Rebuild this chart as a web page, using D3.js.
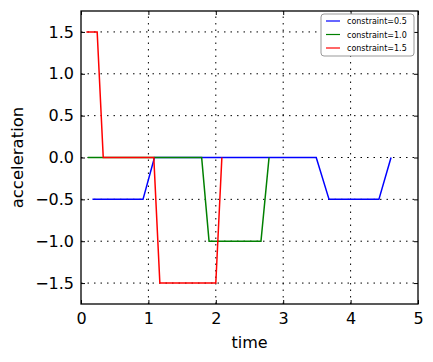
<!DOCTYPE html>
<html lang="en">
<head>
<meta charset="utf-8">
<title>acceleration vs time</title>
<script src="https://cdn.jsdelivr.net/npm/d3@7"></script>
<style>
    body { margin: 0; background: white; font-family: 'DejaVu Sans', sans-serif; }
    .grid line { stroke: #000; stroke-dasharray: 1.5,5; stroke-width: 1; }
</style>
</head>
<body>
<div class="chart"></div>
<script>
// series: [time, acceleration] pairs
const seriesNames = ["constraint=0.5", "constraint=1.0", "constraint=1.5"];
const seriesColors = ["#0000ff", "#008000", "#ff0000"];
const blueTime = [0.17, 0.92, 1.09, 3.49, 3.68, 4.42, 4.6];
const blueAcc  = [-0.5, -0.5, 0, 0, -0.5, -0.5, 0];
const greenTime = [0.1, 1.79, 1.9, 2.67, 2.79];
const greenAcc  = [0, 0, -1, -1, 0];
const redTime = [0.08, 0.24, 0.33, 1.08, 1.17, 2.0, 2.09];
const redAcc  = [1.5, 1.5, 0, 0, -1.5, -1.5, 0];
const xTicks = [0, 1, 2, 3, 4, 5];
const yTicks = [-1.5, -1.0, -0.5, 0.0, 0.5, 1.0, 1.5];

const width = 433, height = 362;
const margin = {left: 81, right: 15, top: 11, bottom: 58};

const svg = d3.select(".chart").append("svg")
    .attr("width", width).attr("height", height);

const x = d3.scaleLinear().domain([0, 5]).range([margin.left, width - margin.right]);
const y = d3.scaleLinear().domain([-1.75, 1.75]).range([height - margin.bottom, margin.top]);

// grid
svg.append("g").attr("class", "grid")
    .selectAll("line").data(xTicks.slice(1, -1)).enter().append("line")
    .attr("x1", d => x(d)).attr("x2", d => x(d))
    .attr("y1", y(-1.75)).attr("y2", y(1.75));
svg.append("g").attr("class", "grid")
    .selectAll("line").data(yTicks).enter().append("line")
    .attr("y1", d => y(d)).attr("y2", d => y(d))
    .attr("x1", x(0)).attr("x2", x(5));

// axes, ticks pointing inward on all sides
const fmt = d3.format(".1f");
svg.append("g").attr("transform", `translate(0,${y(-1.75)})`)
    .call(d3.axisBottom(x).tickValues(xTicks).tickSizeInner(-4).tickSizeOuter(0).tickPadding(9).tickFormat(d3.format("d")));
svg.append("g").attr("transform", `translate(0,${y(1.75)})`)
    .call(d3.axisTop(x).tickValues(xTicks).tickSizeInner(-4).tickSizeOuter(0).tickFormat(""));
svg.append("g").attr("transform", `translate(${x(0)},0)`)
    .call(d3.axisLeft(y).tickValues(yTicks).tickSizeInner(-4).tickSizeOuter(0).tickPadding(7).tickFormat(d => d < 0 ? "\u2212" + fmt(-d) : fmt(d)));
svg.append("g").attr("transform", `translate(${x(5)},0)`)
    .call(d3.axisRight(y).tickValues(yTicks).tickSizeInner(-4).tickSizeOuter(0).tickFormat(""));
svg.selectAll(".tick text").attr("font-size", 16).attr("font-family", "DejaVu Sans").attr("fill", "#000");
svg.selectAll(".domain").remove();
svg.selectAll(".tick line").attr("stroke", "#000");

// lines, drawn above grid and ticks
const data = [
    blueTime.map((t, i) => [t, blueAcc[i]]),
    greenTime.map((t, i) => [t, greenAcc[i]]),
    redTime.map((t, i) => [t, redAcc[i]])
];
const line = d3.line().x(d => x(d[0])).y(d => y(d[1]));
data.forEach((s, i) => {
    svg.append("path").datum(s)
        .attr("d", line)
        .attr("fill", "none")
        .attr("stroke", seriesColors[i])
        .attr("stroke-width", 1.5);
});

svg.append("rect")
    .attr("x", x(0)).attr("y", y(1.75))
    .attr("width", x(5) - x(0)).attr("height", y(-1.75) - y(1.75))
    .attr("fill", "none").attr("stroke", "#000").attr("stroke-width", 1.3);

// axis labels
svg.append("text").attr("x", (x(0) + x(5)) / 2).attr("y", 348)
    .attr("text-anchor", "middle").attr("font-size", 16).text("time");
svg.append("text")
    .attr("transform", `translate(23,${(y(1.75) + y(-1.75)) / 2}) rotate(-90)`)
    .attr("text-anchor", "middle").attr("font-size", 16.5).text("acceleration");

// legend
const lg = svg.append("g").attr("transform", "translate(321,14)");
lg.append("rect").attr("width", 93).attr("height", 42).attr("rx", 3)
    .attr("fill", "white").attr("stroke", "#999").attr("stroke-width", 1);
seriesNames.forEach((name, i) => {
    const yy = 7 + i * 13.5;
    lg.append("line").attr("x1", 5).attr("x2", 19).attr("y1", yy).attr("y2", yy)
        .attr("stroke", seriesColors[i]).attr("stroke-width", 1.2);
    lg.append("text").attr("x", 26).attr("y", yy + 3).attr("font-size", 8).text(name);
});
</script>
</body>
</html>
